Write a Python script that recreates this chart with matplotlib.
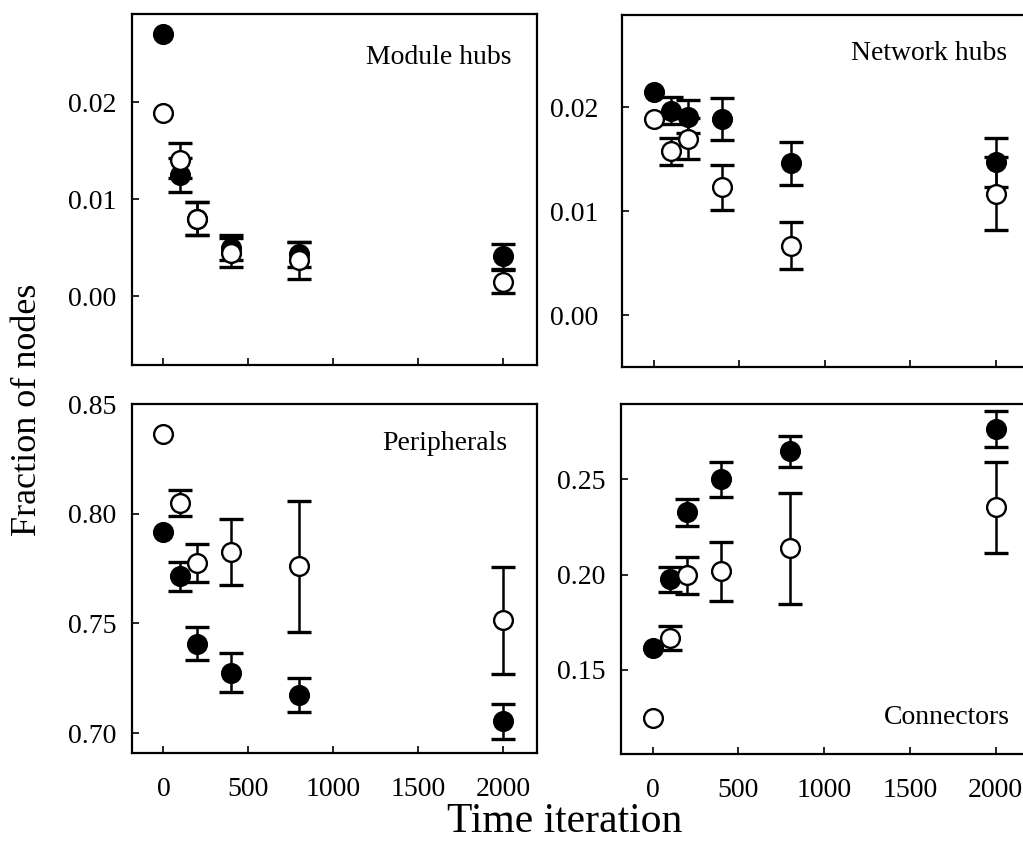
import matplotlib.pyplot as plt
import numpy as np

plt.rcParams['font.family'] = ['Liberation Serif', 'DejaVu Serif']

# time iterations at which the fractions were measured
time = [0, 100, 200, 400, 800, 2000]

# Module hubs
mod_filled = [0.0270, 0.0125, 0.0080, 0.0050, 0.0043, 0.0041]
mod_filled_err = [0, 0.0018, 0.0017, 0.0013, 0.0013, 0.0013]
mod_open = [0.0189, 0.0140, 0.0080, 0.0045, 0.0037, 0.0015]
mod_open_err = [0, 0.0018, 0.0017, 0.0015, 0.0019, 0.0012]

# Network hubs
net_filled = [0.0215, 0.0197, 0.0191, 0.0189, 0.0146, 0.0147]
net_filled_err = [0, 0.0013, 0.0016, 0.0020, 0.0021, 0.0024]
net_open = [0.0189, 0.0158, 0.0170, 0.0123, 0.0067, 0.0117]
net_open_err = [0, 0.0013, 0.0020, 0.0022, 0.0023, 0.0035]

# Peripherals
per_filled = [0.7917, 0.7716, 0.7408, 0.7275, 0.7175, 0.7055]
per_filled_err = [0, 0.0066, 0.0075, 0.0089, 0.0078, 0.0080]
per_open = [0.8362, 0.8050, 0.7775, 0.7825, 0.7760, 0.7514]
per_open_err = [0, 0.0060, 0.0085, 0.0150, 0.0300, 0.0245]

# Connectors
con_filled = [0.1616, 0.1974, 0.2326, 0.2500, 0.2647, 0.2763]
con_filled_err = [0, 0.0068, 0.0071, 0.0092, 0.0082, 0.0095]
con_open = [0.1247, 0.1668, 0.1995, 0.2016, 0.2137, 0.2353]
con_open_err = [0, 0.0063, 0.0098, 0.0153, 0.0290, 0.0240]

W, H = 1023, 859
fig = plt.figure(figsize=(W / 100, H / 100), dpi=100)


def px_axes(left, top, right, bottom):
    return fig.add_axes([left / W, 1 - bottom / H, (right - left) / W, (bottom - top) / H])


def draw_series(ax, y, err, face, z):
    t = np.array(time)
    y = np.array(y)
    err = np.array(err)
    has = err > 0
    # error bars only where an error was reported
    ax.errorbar(t[has], y[has], yerr=err[has], fmt='none', ecolor='black',
                elinewidth=1.8, capsize=8.5, capthick=2.4, zorder=z)
    ax.plot(t, y, 'o', markersize=13.5, markerfacecolor=face,
            markeredgecolor='black', markeredgewidth=1.7, zorder=z + 0.5)


panels = [
    # (axes box in px, filled, filled err, open, open err, ylim, yticks, label, label pos, ypad, xlabels)
    ((132, 14, 537, 365), mod_filled, mod_filled_err, mod_open, mod_open_err,
     (-0.0071, 0.0291), [0.00, 0.01, 0.02], 'Module hubs', (0.938, 0.877), 11, False),
    ((622, 15, 1030, 367), net_filled, net_filled_err, net_open, net_open_err,
     (-0.0050, 0.0289), [0.00, 0.01, 0.02], 'Network hubs', (0.944, 0.892), 17, False),
    ((132, 404, 537, 753), per_filled, per_filled_err, per_open, per_open_err,
     (0.691, 0.850), [0.70, 0.75, 0.80, 0.85], 'Peripherals', (0.926, 0.888), 11, True),
    ((621, 404, 1030, 754), con_filled, con_filled_err, con_open, con_open_err,
     (0.1058, 0.2895), [0.15, 0.20, 0.25], 'Connectors', (0.95, 0.103), 11, True),
]

for box, yf, ef, yo, eo, ylim, yticks, label, lpos, ypad, xlabels in panels:
    ax = px_axes(*box)
    draw_series(ax, yf, ef, 'black', 2)
    draw_series(ax, yo, eo, 'white', 3)
    ax.set_xlim(-185, 2200)
    ax.set_ylim(*ylim)
    ax.set_xticks([0, 500, 1000, 1500, 2000])
    ax.set_yticks(yticks)
    ax.yaxis.set_major_formatter(plt.FormatStrFormatter('%.2f'))
    ax.tick_params(direction='in', length=5, width=1.2, labelsize=20)
    ax.tick_params(axis='x', pad=17, labelbottom=xlabels)
    ax.tick_params(axis='y', pad=ypad)
    for s in ax.spines.values():
        s.set_linewidth(1.6)
    ax.text(lpos[0], lpos[1], label, transform=ax.transAxes, ha='right', va='center', fontsize=20)

fig.text(28 / W, 1 - 410 / H, 'Fraction of nodes', rotation=90, ha='center', va='center', fontsize=26)
fig.text(565 / W, 1 - 822 / H, 'Time iteration', ha='center', va='center', fontsize=30)

fig.savefig('out.png', dpi=100)
